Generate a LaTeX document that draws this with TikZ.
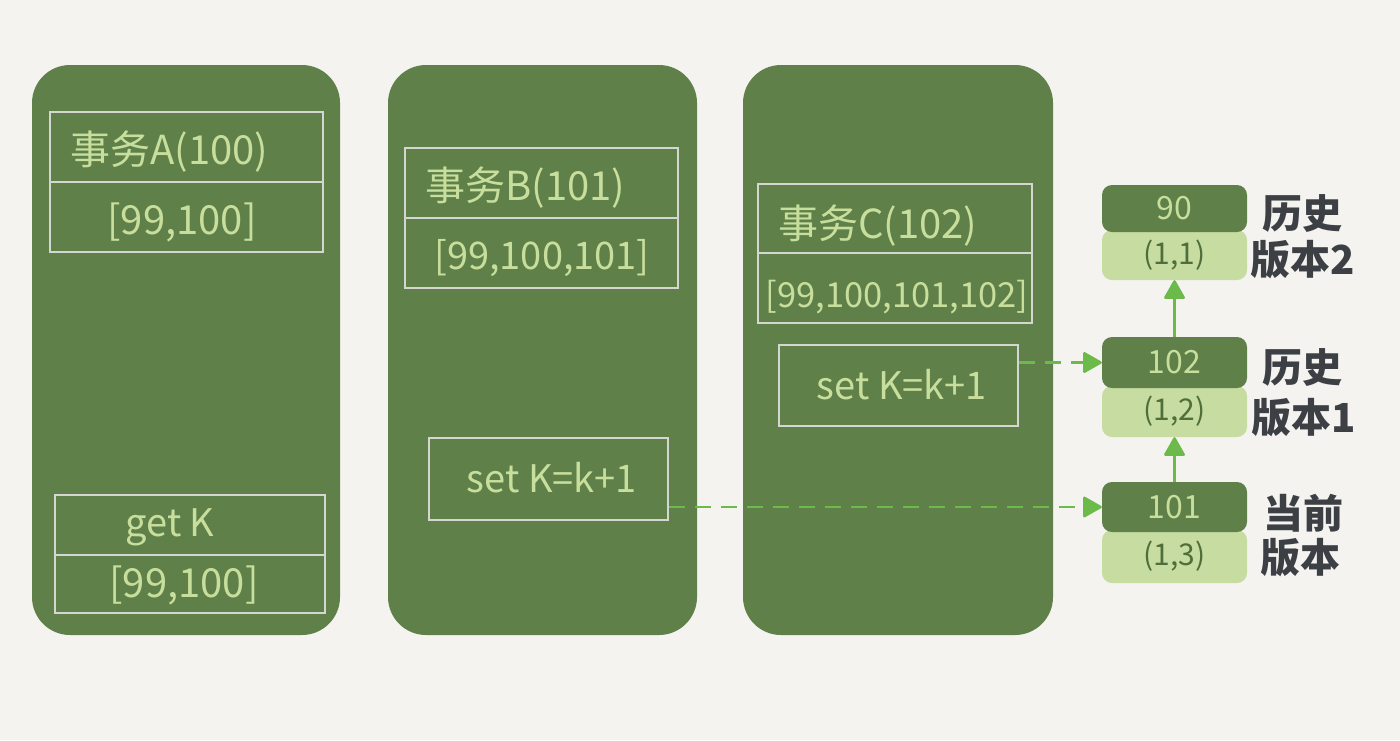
\documentclass[tikz,border=0pt]{standalone}
\usepackage{fontspec}
\setmainfont{Noto Sans CJK SC}
\usetikzlibrary{arrows.meta}
\definecolor{bg}{HTML}{F4F3F0}
\definecolor{panelc}{HTML}{5F8049}
\definecolor{hand}{HTML}{C8DE9C}
\definecolor{frame}{HTML}{D4D6D2}
\definecolor{lite}{HTML}{C6DCA0}
\definecolor{deep}{HTML}{4F6E3B}
\definecolor{ink}{HTML}{3C4045}
\definecolor{arrowc}{HTML}{6CBB4A}
\begin{document}
\begin{tikzpicture}[x=1pt,y=-1pt,
  panel/.style={fill=panelc, rounded corners=38pt, minimum width=308pt, minimum height=570pt, inner sep=0pt},
  frm/.style={draw=frame, line width=2pt, inner sep=0pt},
  hw/.style={text=hand, font=\fontsize{40}{44}\selectfont, inner sep=0pt},
  darkv/.style={fill=panelc, rounded corners=10pt, minimum width=145pt, inner sep=0pt, text=hand, font=\fontsize{32}{36}\selectfont},
  litev/.style={fill=lite, rounded corners=10pt, minimum width=145pt, inner sep=0pt, text=deep, font=\fontsize{30}{34}\selectfont},
  lbl/.style={text=ink, font=\fontsize{40}{44}\selectfont\bfseries, inner sep=0pt},
  upar/.style={draw=arrowc, line width=2.5pt, -{Triangle[round,length=20pt,width=22pt]}},
  dsar/.style={draw=arrowc, line width=2.5pt, dash pattern=on 16pt off 10pt, -{Triangle[round,length=20pt,width=22pt]}}
]
\useasboundingbox (0,0) rectangle (1400,740);
\fill[bg] (0,0) rectangle (1400,740);

% panels
\node[panel] (pA) at (186,350) {};
\node[panel, minimum width=309pt] (pB) at (542.5,350) {};
\node[panel, minimum width=310pt] (pC) at (898,350) {};

% panel A
\node[frm, minimum width=273pt, minimum height=70pt] (hA) at (186.5,147) {};
\node[frm, minimum width=273pt, minimum height=70pt] (rA) at (186.5,217) {};
\node[hw, anchor=west] (tA) at (70,152) {事务A(100)};
\node[hw] (sA) at (182,222) {[99,100]};
\node[frm, minimum width=270pt, minimum height=60pt] (gA) at (190,525) {};
\node[frm, minimum width=270pt, minimum height=58pt] (grA) at (190,584) {};
\node[hw, font=\fontsize{38}{42}\selectfont] (gtA) at (170,527) {get K};
\node[hw] (gsA) at (184,585) {[99,100]};

% panel B
\node[frm, minimum width=273pt, minimum height=70pt] (hB) at (541.5,183) {};
\node[frm, minimum width=273pt, minimum height=70pt] (rB) at (541.5,253) {};
\node[hw, anchor=west] (tB) at (425,188) {事务B(101)};
\node[hw, font=\fontsize{38}{42}\selectfont] (sB) at (542,258) {[99,100,101]};
\node[frm, minimum width=239pt, minimum height=82pt] (setB) at (548.5,479) {};
\node[hw, font=\fontsize{38}{42}\selectfont] (stB) at (552,478) {set K=k+1};

% panel C
\node[frm, minimum width=274pt, minimum height=69pt] (hC) at (895,218.5) {};
\node[frm, minimum width=274pt, minimum height=70pt] (rC) at (895,288) {};
\node[hw, anchor=west] (tC) at (778,226) {事务C(102)};
\node[hw, font=\fontsize{34.5}{38}\selectfont] (sC) at (897,297) {[99,100,101,102]};
\node[frm, minimum width=239pt, minimum height=81pt] (setC) at (898.5,385.5) {};
\node[hw, font=\fontsize{38}{42}\selectfont] (stC) at (902,385) {set K=k+1};

% version stack
\node[litev, minimum height=50pt] (l11) at (1174.5,255) {(1,1)};
\node[darkv, minimum height=47pt] (v90) at (1174.5,208.5) {90};
\node[litev, minimum height=51pt] (l12) at (1174.5,411.5) {(1,2)};
\node[darkv, minimum height=51pt] (v102) at (1174.5,362.5) {102};
\node[litev, minimum height=53pt] (l13) at (1174.5,556.5) {(1,3)};
\node[darkv, minimum height=50pt] (v101) at (1174.5,507) {101};

% labels
\node[lbl] (h1) at (1302,214) {历史};
\node[lbl] (b2) at (1303,260) {版本2};
\node[lbl] (h2) at (1302,368) {历史};
\node[lbl] (b1) at (1304,418) {版本1};
\node[lbl] (cur) at (1303,513) {当前};
\node[lbl] (b0) at (1300,558) {版本};

% arrows
\draw[upar] (v102.north) -- (l11.south);
\draw[upar] (v101.north) -- (l12.south);
\draw[dsar] (setC.east |- v102.west) -- (v102.west);
\draw[dsar] (setB.east |- v101.west) -- (v101.west);
\end{tikzpicture}
\end{document}
